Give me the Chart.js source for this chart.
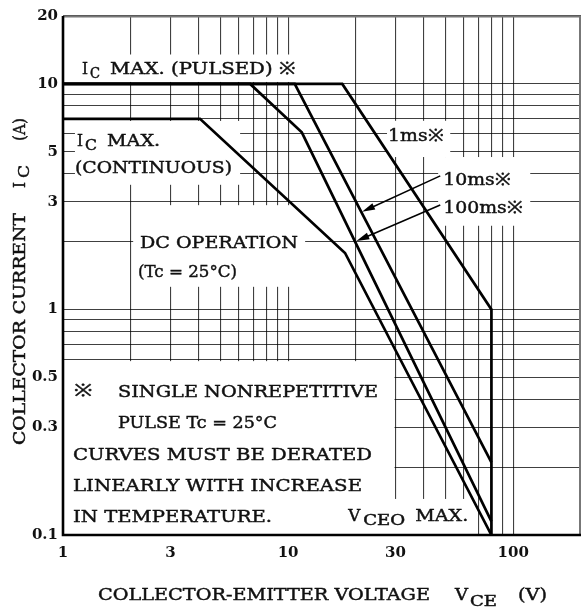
<!DOCTYPE html>
<html><head><meta charset="utf-8">
<script src="https://cdn.jsdelivr.net/npm/chart.js@4/dist/chart.umd.min.js"></script>
<style>html,body{margin:0;padding:0;background:#fff;}canvas{display:block;}</style>
</head><body>
<canvas id="c" width="581" height="608"></canvas>
<script>
// ---- tick / grid values ----
const xGridValues = [1,2,3,4,5,6,7,8,9,10,20,30,40,50,60,70,80,90,100];
const xTickLabels = [1,3,10,30,100];
const yGridValues = [0.1,0.2,0.3,0.4,0.5,0.6,0.7,0.8,0.9,1,2,3,4,5,6,7,8,9,10,20];
const yTickLabels = [0.1,0.3,0.5,1,3,5,10,20];

// ---- series (VCE in V, IC in A) ----
const dcV    = [1, 4.06, 17.9, 80];
const dcI    = [7, 7, 1.78, 0.1];
const ms100V = [1, 6.78, 11.5, 80];
const ms100I = [10, 10, 6.1, 0.115];
const ms10V  = [1, 10.7, 80];
const ms10I  = [10, 10, 0.21];
const ms1V   = [1, 17.4, 80, 80];
const ms1I   = [10, 10, 1.0, 0.1];

const FONT = '17px "DejaVu Serif"';
const SUB  = '14px "DejaVu Serif"';
const TXT  = '#111';

function series(V, I, label) {
  return { label, data: V.map((v, i) => ({ x: v, y: I[i] })), showLine: true,
    borderColor: '#000', borderWidth: 2.7, pointRadius: 0, fill: false, tension: 0 };
}

// white areas behind annotations (data coords: V range, I range)
const whiteBoxes = [
  [1.07, 11.5, 10.2, 13.5],
  [1.13, 6.12, 3.57, 6.85],
  [2.05, 11.9, 1.26, 2.9],
  [27.5, 52.5, 4.74, 6.86],
  [46.4, 119, 2.35, 4.74],
  [1.0, 29.7, 0.1, 0.59],
  [29.0, 65.7, 0.1, 0.1445]
];

// in-plot text pieces: [text, V(left), I(baseline), width px, sub]
const plotTexts = [
  ['I', 1.215, 11.07, 6, false], ['C', 1.318, 11.07, 10, true], ['MAX. (PULSED) \u203B', 1.618, 11.07, 185, false],
  ['I', 1.154, 5.31, 6, false], ['C', 1.252, 5.31, 12, true], ['MAX.', 1.569, 5.31, 53, false],
  ['(CONTINUOUS)', 1.131, 4.03, 157, false],
  ['DC OPERATION', 2.199, 1.874, 158, false],
  ['(Tc = 25\u00B0C)', 2.154, 1.394, 99, false],
  ['1ms\u203B', 27.8, 5.59, 55, false],
  ['10ms\u203B', 48.9, 3.565, 67, false],
  ['100ms\u203B', 48.9, 2.679, 79, false],
  ['\u203B', 1.119, 0.4135, 18, false],
  ['SINGLE NONREPETITIVE', 1.756, 0.409, 260, false],
  ['PULSE Tc = 25\u00B0C', 1.756, 0.2982, 159, false],
  ['CURVES MUST BE DERATED', 1.108, 0.2151, 299, false],
  ['LINEARLY WITH INCREASE', 1.108, 0.1567, 289, false],
  ['IN TEMPERATURE.', 1.108, 0.1142, 199, false],
  ['V', 18.48, 0.1154, 12, false], ['CEO', 21.54, 0.1154, 42, true], ['MAX.', 36.7, 0.1154, 53, false]
];

// arrows: [tailV, tailI, tipV, tipI]
const arrows = [
  [47.4, 3.91, 21.3, 2.71],
  [47.4, 2.906, 20.1, 2.01]
];

function fitText(ctx, text, x, y, w, font, rot) {
  ctx.save();
  ctx.font = font;
  const nat = ctx.measureText(text).width;
  ctx.translate(x, y);
  if (rot) ctx.rotate(-Math.PI / 2);
  ctx.scale(w / nat, 1);
  ctx.textBaseline = 'alphabetic';
  ctx.textAlign = 'left';
  ctx.fillStyle = TXT;
  ctx.strokeStyle = TXT;
  ctx.lineWidth = 0.45;
  ctx.fillText(text, 0, 0);
  ctx.strokeText(text, 0, 0);
  ctx.restore();
}

const annot = {
  id: 'annot',
  beforeDraw(chart) {
    const ctx = chart.ctx;
    ctx.save(); ctx.fillStyle = '#fff'; ctx.fillRect(0, 0, chart.width, chart.height); ctx.restore();
  },
  beforeDatasetsDraw(chart) {
    const ctx = chart.ctx, xs = chart.scales.x, ys = chart.scales.y;
    ctx.save();
    ctx.fillStyle = '#fff';
    whiteBoxes.forEach(b => {
      const x0 = xs.getPixelForValue(b[0]), x1 = xs.getPixelForValue(b[1]);
      const y0 = ys.getPixelForValue(b[3]), y1 = ys.getPixelForValue(b[2]);
      ctx.fillRect(x0, y0, x1 - x0, y1 - y0);
    });
    ctx.restore();
  },
  afterDatasetsDraw(chart) {
    const ctx = chart.ctx, xs = chart.scales.x, ys = chart.scales.y, a = chart.chartArea;
    // frame
    ctx.save();
    ctx.strokeStyle = '#777'; ctx.lineWidth = 2;
    ctx.beginPath(); ctx.moveTo(a.left, a.top + 0.5); ctx.lineTo(a.right, a.top + 0.5);
    ctx.moveTo(a.right - 1, a.top); ctx.lineTo(a.right - 1, a.bottom); ctx.stroke();
    ctx.strokeStyle = '#000'; ctx.lineWidth = 2.6;
    ctx.beginPath(); ctx.moveTo(a.left, a.top); ctx.lineTo(a.left, a.bottom); ctx.lineTo(a.right, a.bottom); ctx.stroke();
    ctx.restore();
    // texts
    plotTexts.forEach(t => {
      const x = xs.getPixelForValue(t[1]);
      const y = ys.getPixelForValue(t[2]) + (t[4] ? 4 : 0);
      fitText(ctx, t[0], x, y, t[3], t[4] ? SUB : FONT, false);
    });
    // arrows
    ctx.save();
    ctx.strokeStyle = '#000'; ctx.fillStyle = '#000'; ctx.lineWidth = 1.5;
    arrows.forEach(r => {
      const x0 = xs.getPixelForValue(r[0]), y0 = ys.getPixelForValue(r[1]);
      const x1 = xs.getPixelForValue(r[2]), y1 = ys.getPixelForValue(r[3]);
      const ang = Math.atan2(y1 - y0, x1 - x0);
      const L = 13, H = 3.5;
      ctx.beginPath(); ctx.moveTo(x0, y0); ctx.lineTo(x1 - Math.cos(ang) * L * 0.8, y1 - Math.sin(ang) * L * 0.8); ctx.stroke();
      ctx.beginPath();
      ctx.moveTo(x1, y1);
      ctx.lineTo(x1 - Math.cos(ang) * L - Math.sin(ang) * H, y1 - Math.sin(ang) * L + Math.cos(ang) * H);
      ctx.lineTo(x1 - Math.cos(ang) * L + Math.sin(ang) * H, y1 - Math.sin(ang) * L - Math.cos(ang) * H);
      ctx.closePath(); ctx.fill();
    });
    ctx.restore();
    // axis titles
    fitText(ctx, 'COLLECTOR CURRENT', 25, 445, 232, FONT, true);
    fitText(ctx, 'I', 25, 188, 6, FONT, true);
    fitText(ctx, 'C', 29, 178, 13, SUB, true);
    fitText(ctx, '(A)', 25, 141, 23, FONT, true);
    fitText(ctx, 'COLLECTOR-EMITTER VOLTAGE', 98, 600, 332, FONT, false);
    fitText(ctx, 'V', 455, 600, 13, FONT, false);
    fitText(ctx, 'CE', 470, 606, 27, SUB, false);
    fitText(ctx, '(V)', 518, 600, 29, FONT, false);
  }
};

const tickFont = { family: 'DejaVu Serif', size: 15, weight: 'bold' };
const gridColor = 'rgba(0,0,0,0.75)';

new Chart(document.getElementById('c'), {
  type: 'scatter',
  data: { datasets: [
    series(dcV, dcI, 'DC'),
    series(ms100V, ms100I, '100ms'),
    series(ms10V, ms10I, '10ms'),
    series(ms1V, ms1I, '1ms')
  ] },
  options: {
    responsive: false, animation: false, devicePixelRatio: 1,
    layout: { padding: { top: 16, right: 0, left: 0, bottom: 0 } },
    plugins: { legend: { display: false }, tooltip: { enabled: false } },
    scales: {
      x: {
        type: 'logarithmic', min: 1, max: 200, position: 'bottom',
        afterBuildTicks: s => { s.ticks = xGridValues.map(v => ({ value: v })); },
        afterFit: s => { s.height = 73; },
        grid: { color: gridColor, lineWidth: 1.1, drawTicks: false },
        border: { display: false },
        ticks: { autoSkip: false, maxRotation: 0, padding: 9, font: tickFont, color: '#111',
          callback: v => xTickLabels.includes(v) ? String(v) : '' }
      },
      y: {
        type: 'logarithmic', min: 0.1, max: 20, position: 'left',
        afterBuildTicks: s => { s.ticks = yGridValues.map(v => ({ value: v })); },
        afterFit: s => { s.width = 63; },
        grid: { color: gridColor, lineWidth: 1.1, drawTicks: false },
        border: { display: false },
        ticks: { autoSkip: false, padding: 5, font: tickFont, color: '#111',
          callback: v => yTickLabels.includes(v) ? String(v) : '' }
      }
    }
  },
  plugins: [annot]
});
</script>
</body></html>
